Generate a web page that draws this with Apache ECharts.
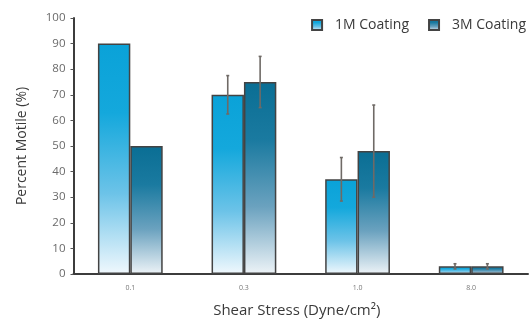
<!DOCTYPE html>
<html>
<head>
<meta charset="utf-8">
<script src="https://cdn.jsdelivr.net/npm/echarts@6/dist/echarts.min.js"></script>
<style>
  html, body { margin: 0; padding: 0; background: #fff; }
  #chart { width: 532px; height: 323px; }
</style>
</head>
<body>
<div id="chart"></div>
<script>
// Shear stress levels (Dyne/cm²)
const categories = ['0.1', '0.3', '1.0', '8.0'];
// Percent motile for each coating
const coating1M = [90, 70, 37, 3];
const coating3M = [50, 75, 48, 3];
// Half-length of the error bars (null = no error bar)
const err1M = [null, 7.5, 8.5, 1];
const err3M = [null, 10, 18, 1];
const yTicks = [0, 10, 20, 30, 40, 50, 60, 70, 80, 90, 100];

const GAP = 0.43; // share of the category band left empty
const FONT = '"Open Sans", "Noto Sans", sans-serif';

function grad(stops) {
  return new echarts.graphic.LinearGradient(0, 0, 0, 1,
    stops.map(function (s) { return { offset: s[0], color: s[1] }; }));
}

const fill1M = grad([[0, '#0aa2d8'], [0.3, '#14a8dc'], [0.65, '#6cc3e8'], [1, '#f0f8fd']]);
const fill3M = grad([[0, '#0a6e94'], [0.3, '#1a7aa0'], [0.65, '#6ba2bf'], [1, '#edf3f7']]);

// Error bar drawn over the bar at position `side` (-1 left, +1 right) of the group
function errorSeries(name, values, errs, side) {
  const data = values.map((v, i) => errs[i] == null ? [i, v, v, v] : [i, v - errs[i], v + errs[i], v]);
  return {
    type: 'custom',
    name: name + ' err',
    z: 5,
    silent: true,
    data: data,
    encode: { x: 0, y: [1, 2] },
    renderItem: function (params, api) {
      const idx = api.value(0);
      const lo = api.value(1), hi = api.value(2);
      if (lo === hi) return null;
      const band = api.size([1, 0])[0];
      const barW = band * (1 - GAP) / 2;
      const c = api.coord([idx, lo]);
      const x = c[0] + side * barW / 2;
      const yLo = c[1];
      const yHi = api.coord([idx, hi])[1];
      const cap = 1.5;
      const style = { stroke: '#6f6a66', lineWidth: 1.6 };
      return {
        type: 'group',
        children: [
          { type: 'line', shape: { x1: x, y1: yLo, x2: x, y2: yHi }, style: style },
          { type: 'line', shape: { x1: x - cap, y1: yHi, x2: x + cap, y2: yHi }, style: style },
          { type: 'line', shape: { x1: x - cap, y1: yLo, x2: x + cap, y2: yLo }, style: style }
        ]
      };
    }
  };
}

const chart = echarts.init(document.getElementById('chart'), null, { renderer: 'canvas' });

chart.setOption({
  animation: false,
  textStyle: { fontFamily: FONT },
  grid: { left: 73.5, right: 4, top: 18, bottom: 49 },
  legend: {
    data: ['1M Coating', '3M Coating'],
    top: 13,
    right: 1,
    itemWidth: 10,
    itemHeight: 10,
    itemGap: 19,
    icon: 'rect',
    textStyle: { fontFamily: FONT, fontSize: 14, color: '#3a3a3a', padding: [0, 0, 0, 8] }
  },
  xAxis: {
    type: 'category',
    data: categories,
    name: 'Shear Stress (Dyne/cm²)',
    nameLocation: 'middle',
    nameGap: 29,
    nameTextStyle: { fontFamily: FONT, fontSize: 15, color: '#3a3a3a', padding: [0, 0, 0, -8] },
    axisLine: { lineStyle: { color: '#3c3c3c', width: 2 } },
    axisTick: { show: false },
    axisLabel: { fontSize: 7, color: '#777', margin: 10 }
  },
  yAxis: {
    type: 'value',
    min: 0,
    max: 100,
    interval: 10,
    name: 'Percent Motile (%)',
    nameLocation: 'middle',
    nameGap: 44,
    nameTextStyle: { fontFamily: FONT, fontSize: 14, color: '#3a3a3a' },
    splitLine: { show: false },
    axisLine: { show: true, lineStyle: { color: '#3c3c3c', width: 2 } },
    axisTick: { show: true, length: 3, lineStyle: { color: '#555', width: 1 } },
    axisLabel: {
      fontSize: 11.5,
      color: '#6a6a6a',
      margin: 8,
      formatter: function (v) { return yTicks.indexOf(v) >= 0 ? String(v) : ''; }
    }
  },
  series: [
    {
      type: 'bar',
      name: '1M Coating',
      data: coating1M,
      barGap: '0%',
      barCategoryGap: (GAP * 100) + '%',
      itemStyle: { color: fill1M, borderColor: '#434343', borderWidth: 1.5 }
    },
    {
      type: 'bar',
      name: '3M Coating',
      data: coating3M,
      barGap: '0%',
      barCategoryGap: (GAP * 100) + '%',
      itemStyle: { color: fill3M, borderColor: '#434343', borderWidth: 1.5 }
    },
    errorSeries('1M Coating', coating1M, err1M, -1),
    errorSeries('3M Coating', coating3M, err3M, 1)
  ]
});
</script>
</body>
</html>
